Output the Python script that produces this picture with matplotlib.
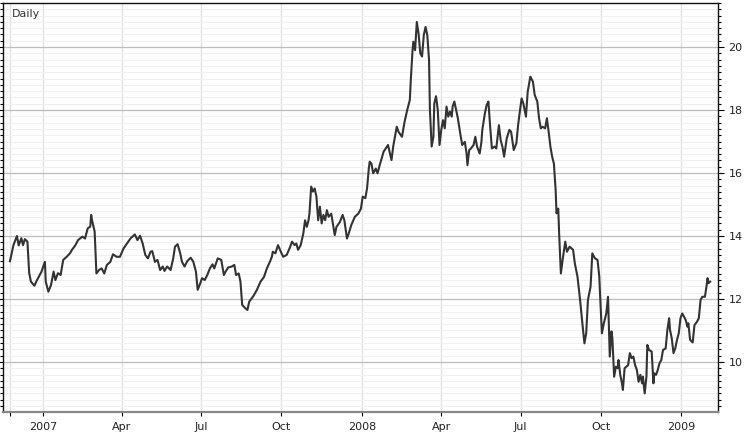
import matplotlib
matplotlib.use("Agg")
import matplotlib.pyplot as plt
import matplotlib.dates as mdates
from matplotlib.ticker import MultipleLocator
import pandas as pd

# daily closes
dates = [
    "2006-11-24", "2006-11-26", "2006-11-28", "2006-12-02", "2006-12-04", "2006-12-07",
    "2006-12-09", "2006-12-11", "2006-12-14", "2006-12-16", "2006-12-18", "2006-12-22",
    "2006-12-25", "2006-12-30", "2007-01-03", "2007-01-04", "2007-01-07", "2007-01-10",
    "2007-01-13", "2007-01-15", "2007-01-18", "2007-01-21", "2007-01-24", "2007-01-28",
    "2007-02-01", "2007-02-03", "2007-02-07", "2007-02-10", "2007-02-15", "2007-02-18",
    "2007-02-21", "2007-02-24", "2007-02-25", "2007-02-26", "2007-03-01", "2007-03-03",
    "2007-03-06", "2007-03-09", "2007-03-12", "2007-03-15", "2007-03-19", "2007-03-22",
    "2007-03-26", "2007-03-30", "2007-04-03", "2007-04-07", "2007-04-11", "2007-04-16",
    "2007-04-19", "2007-04-22", "2007-04-25", "2007-04-28", "2007-05-01", "2007-05-04",
    "2007-05-06", "2007-05-09", "2007-05-12", "2007-05-15", "2007-05-18", "2007-05-20",
    "2007-05-23", "2007-05-27", "2007-05-30", "2007-06-01", "2007-06-04", "2007-06-07",
    "2007-06-09", "2007-06-12", "2007-06-15", "2007-06-19", "2007-06-22", "2007-06-25",
    "2007-06-27", "2007-06-30", "2007-07-02", "2007-07-05", "2007-07-08", "2007-07-11",
    "2007-07-14", "2007-07-16", "2007-07-20", "2007-07-24", "2007-07-27", "2007-07-29",
    "2007-08-01", "2007-08-05", "2007-08-08", "2007-08-10", "2007-08-13", "2007-08-15",
    "2007-08-17", "2007-08-20", "2007-08-23", "2007-08-25", "2007-08-30", "2007-09-03",
    "2007-09-07", "2007-09-11", "2007-09-14", "2007-09-18", "2007-09-20", "2007-09-21",
    "2007-09-24", "2007-09-27", "2007-10-01", "2007-10-03", "2007-10-07", "2007-10-11",
    "2007-10-13", "2007-10-16", "2007-10-18", "2007-10-20", "2007-10-23", "2007-10-26",
    "2007-10-28", "2007-10-30", "2007-11-01", "2007-11-02", "2007-11-04", "2007-11-06",
    "2007-11-08", "2007-11-10", "2007-11-12", "2007-11-14", "2007-11-16", "2007-11-18",
    "2007-11-20", "2007-11-22", "2007-11-24", "2007-11-27", "2007-12-01", "2007-12-03",
    "2007-12-07", "2007-12-10", "2007-12-12", "2007-12-15", "2007-12-17", "2007-12-20",
    "2007-12-24", "2007-12-28", "2007-12-31", "2008-01-02", "2008-01-05", "2008-01-07",
    "2008-01-09", "2008-01-10", "2008-01-12", "2008-01-14", "2008-01-17", "2008-01-19",
    "2008-01-22", "2008-01-26", "2008-01-31", "2008-02-04", "2008-02-06", "2008-02-10",
    "2008-02-12", "2008-02-16", "2008-02-19", "2008-02-22", "2008-02-25", "2008-02-26",
    "2008-02-28", "2008-02-29", "2008-03-02", "2008-03-04", "2008-03-06", "2008-03-08",
    "2008-03-10", "2008-03-12", "2008-03-14", "2008-03-16", "2008-03-18", "2008-03-19",
    "2008-03-21", "2008-03-23", "2008-03-24", "2008-03-26", "2008-03-28", "2008-03-30",
    "2008-04-01", "2008-04-03", "2008-04-05", "2008-04-07", "2008-04-09", "2008-04-11",
    "2008-04-13", "2008-04-14", "2008-04-16", "2008-04-18", "2008-04-20", "2008-04-23",
    "2008-04-25", "2008-04-28", "2008-04-30", "2008-05-01", "2008-05-03", "2008-05-05",
    "2008-05-08", "2008-05-10", "2008-05-12", "2008-05-15", "2008-05-17", "2008-05-18",
    "2008-05-21", "2008-05-23", "2008-05-25", "2008-05-27", "2008-05-29", "2008-06-01",
    "2008-06-03", "2008-06-06", "2008-06-08", "2008-06-10", "2008-06-12", "2008-06-15",
    "2008-06-18", "2008-06-20", "2008-06-23", "2008-06-26", "2008-06-28", "2008-06-29",
    "2008-07-02", "2008-07-04", "2008-07-07", "2008-07-09", "2008-07-12", "2008-07-15",
    "2008-07-17", "2008-07-20", "2008-07-22", "2008-07-24", "2008-07-26", "2008-07-29",
    "2008-07-31", "2008-08-02", "2008-08-04", "2008-08-06", "2008-08-08", "2008-08-10",
    "2008-08-11", "2008-08-13", "2008-08-14", "2008-08-16", "2008-08-18", "2008-08-21",
    "2008-08-23", "2008-08-26", "2008-08-30", "2008-09-01", "2008-09-04", "2008-09-07",
    "2008-09-10", "2008-09-12", "2008-09-14", "2008-09-16", "2008-09-19", "2008-09-21",
    "2008-09-24", "2008-09-27", "2008-09-29", "2008-09-30", "2008-10-02", "2008-10-04",
    "2008-10-07", "2008-10-09", "2008-10-11", "2008-10-13", "2008-10-14", "2008-10-16",
    "2008-10-18", "2008-10-20", "2008-10-21", "2008-10-23", "2008-10-25", "2008-10-26",
    "2008-10-28", "2008-10-30", "2008-11-01", "2008-11-03", "2008-11-05", "2008-11-07",
    "2008-11-09", "2008-11-11", "2008-11-13", "2008-11-15", "2008-11-17", "2008-11-18",
    "2008-11-20", "2008-11-22", "2008-11-23", "2008-11-25", "2008-11-28", "2008-11-30",
    "2008-12-01", "2008-12-03", "2008-12-05", "2008-12-07", "2008-12-09", "2008-12-11",
    "2008-12-14", "2008-12-16", "2008-12-18", "2008-12-19", "2008-12-21", "2008-12-23",
    "2008-12-25", "2008-12-27", "2008-12-29", "2008-12-31", "2009-01-02", "2009-01-04",
    "2009-01-06", "2009-01-08", "2009-01-09", "2009-01-11", "2009-01-14", "2009-01-16",
    "2009-01-19", "2009-01-21", "2009-01-23", "2009-01-25", "2009-01-28", "2009-01-30",
    "2009-01-31", "2009-02-01", "2009-02-03",
]
values = [
    13.20, 13.46, 13.71, 14.00, 13.70, 13.93,
    13.71, 13.90, 13.82, 12.83, 12.55, 12.42,
    12.60, 12.86, 13.18, 12.55, 12.23, 12.44,
    12.87, 12.60, 12.82, 12.76, 13.24, 13.34,
    13.46, 13.56, 13.71, 13.87, 13.98, 13.92,
    14.24, 14.30, 14.67, 14.50, 14.14, 12.81,
    12.92, 12.97, 12.81, 13.08, 13.18, 13.42,
    13.34, 13.34, 13.60, 13.76, 13.92, 14.05,
    13.87, 14.01, 13.76, 13.40, 13.29, 13.50,
    13.52, 13.18, 13.24, 12.92, 13.03, 12.89,
    13.03, 12.92, 13.29, 13.66, 13.74, 13.45,
    13.18, 13.03, 13.20, 13.31, 13.18, 12.87,
    12.29, 12.50, 12.66, 12.60, 12.76, 12.97,
    13.10, 12.97, 13.29, 13.24, 12.76, 12.87,
    13.00, 13.03, 13.08, 12.76, 12.81, 12.55,
    11.81, 11.72, 11.65, 11.91, 12.10, 12.30,
    12.55, 12.70, 12.95, 13.20, 13.34, 13.50,
    13.45, 13.71, 13.45, 13.34, 13.40, 13.66,
    13.82, 13.71, 13.76, 13.56, 13.71, 14.08,
    14.50, 14.29, 14.50, 14.71, 15.57, 15.41,
    15.51, 15.25, 14.50, 14.93, 14.40, 14.67,
    14.50, 14.82, 14.61, 14.71, 14.03, 14.29,
    14.45, 14.67, 14.50, 13.92, 14.08, 14.35,
    14.61, 14.71, 14.87, 15.25, 15.20, 15.51,
    16.14, 16.36, 16.30, 15.99, 16.14, 15.99,
    16.30, 16.68, 16.89, 16.41, 16.85, 17.47,
    17.31, 17.15, 17.63, 18.00, 18.32, 18.90,
    19.85, 20.17, 19.90, 20.80, 20.43, 19.80,
    19.70, 20.38, 20.64, 20.38, 19.59, 18.00,
    16.84, 17.15, 18.21, 18.44, 18.00, 16.89,
    17.37, 17.68, 17.42, 18.11, 17.79, 17.95,
    17.79, 18.11, 18.27, 18.00, 17.74, 17.21,
    16.89, 16.99, 16.62, 16.25, 16.73, 16.78,
    16.89, 17.15, 16.84, 16.62, 16.99, 17.37,
    17.90, 18.16, 18.27, 17.47, 16.78, 16.84,
    16.78, 17.52, 17.05, 16.84, 16.52, 17.10,
    17.37, 17.31, 16.73, 16.94, 17.52, 17.74,
    18.37, 18.21, 17.79, 18.58, 19.06, 18.90,
    18.48, 18.27, 17.74, 17.42, 17.47, 17.42,
    17.74, 17.31, 16.84, 16.52, 16.30, 15.46,
    14.72, 14.87, 14.08, 12.81, 13.24, 13.82,
    13.50, 13.66, 13.56, 13.13, 12.71, 11.97,
    11.12, 10.59, 10.91, 11.97, 12.39, 13.45,
    13.29, 13.24, 12.71, 12.07, 10.91, 11.20,
    11.54, 12.07, 10.17, 10.97, 10.75, 9.53,
    9.85, 9.80, 10.06, 9.59, 9.32, 9.11,
    9.80, 9.85, 9.90, 10.28, 10.12, 10.17,
    9.90, 9.75, 9.37, 9.59, 9.32, 9.53,
    9.00, 9.53, 10.54, 10.38, 10.33, 9.32,
    9.64, 9.59, 9.75, 9.96, 10.06, 10.38,
    10.43, 11.02, 11.39, 11.02, 10.75, 10.28,
    10.43, 10.70, 10.91, 11.39, 11.54, 11.44,
    11.33, 11.12, 11.23, 10.70, 10.62, 11.17,
    11.28, 11.39, 11.97, 12.07, 12.07, 12.44,
    12.66, 12.50, 12.55,
]

tick_dates = ["2006-11-24", "2007-01-01", "2007-04-01", "2007-07-01", "2007-10-01",
              "2008-01-01", "2008-04-01", "2008-07-01", "2008-10-01", "2009-01-01"]
tick_labels = ["", "2007", "Apr", "Jul", "Oct", "2008", "Apr", "Jul", "Oct", "2009"]

x = pd.to_datetime(dates)

fig = plt.figure(figsize=(7.45, 4.33), dpi=100)
ax = fig.add_axes([0.004, 0.0485, 0.9598, 0.9446])

ax.plot(x, values, '-', color='#333333', linewidth=1.5, zorder=3)

ax.set_xlim(pd.Timestamp("2006-11-16"), pd.Timestamp("2009-02-12"))
ax.set_ylim(8.41, 21.40)

ax.set_xticks(pd.to_datetime(tick_dates))
ax.set_xticklabels(tick_labels, fontsize=8, color='#222222')

ax.yaxis.set_major_locator(MultipleLocator(2))
ax.yaxis.set_minor_locator(MultipleLocator(0.2))
ax.yaxis.tick_right()
ax.tick_params(axis='y', which='both', left=True, right=True, labelleft=False,
               labelright=True, labelsize=8, labelcolor='#222222', direction='out')
ax.tick_params(axis='y', which='major', length=4, width=0.8)
ax.tick_params(axis='y', which='minor', length=2.5, width=0.8)
ax.tick_params(axis='x', which='major', length=3, width=0.8, pad=4)

# grid: light minor lines, gray major lines, pale verticals
ax.grid(axis='y', which='minor', color='#f0f0f0', linewidth=0.8, zorder=0)
ax.grid(axis='y', which='major', color='#bdbdbd', linewidth=0.9, zorder=1)
ax.grid(axis='x', which='major', color='#e2e2e2', linewidth=1.0, zorder=1)

for side in ['top', 'left', 'right']:
    ax.spines[side].set_color('#111111')
    ax.spines[side].set_linewidth(1.0)
ax.spines['bottom'].set_color('#888888')
ax.spines['bottom'].set_linewidth(1.6)

ax.text(0.012, 0.985, 'Daily', transform=ax.transAxes, fontsize=8,
        color='#333333', va='top', ha='left')

fig.savefig("out.png", dpi=100)
